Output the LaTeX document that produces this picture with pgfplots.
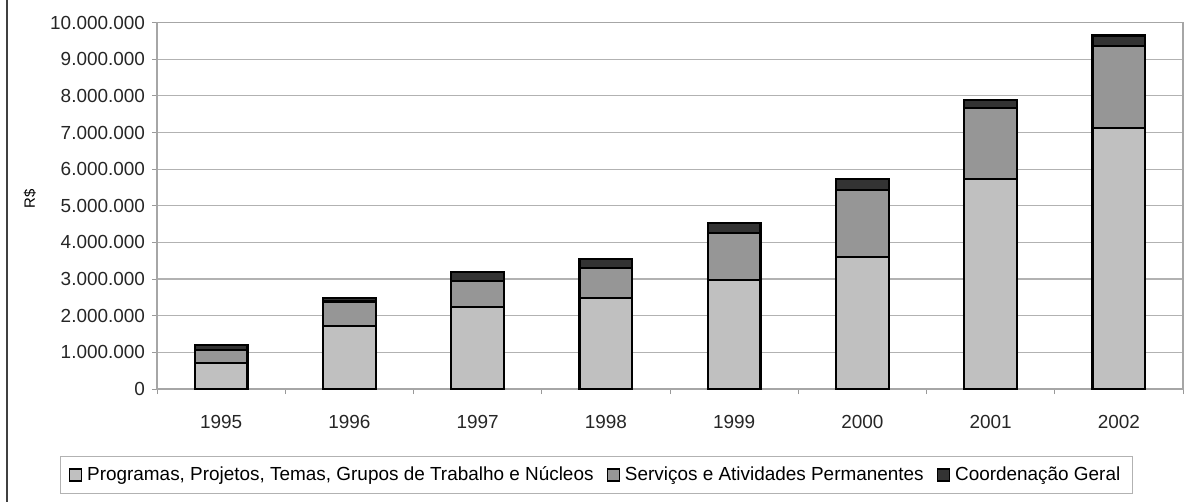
\documentclass[border=0pt]{standalone}
\usepackage{fontspec}
\setmainfont{Liberation Sans}
\usepackage{pgfplots}
\pgfplotsset{compat=1.18}
\definecolor{cLight}{HTML}{C0C0C0}
\definecolor{cMid}{HTML}{969696}
\definecolor{cDark}{HTML}{333333}
\begin{document}
\begin{tikzpicture}
\path[use as bounding box] (0,0) rectangle (595.5bp,-251bp);
\draw[line width=0.8bp, black!75] (3.5bp,0) -- (3.5bp,-251bp);
\begin{axis}[
  at={(78.5bp,-194.5bp)}, anchor=south west,
  scale only axis, width=513bp, height=183.2bp,
  ybar stacked, bar width=26.35bp,
  xmin=-0.5, xmax=7.5, ymin=0, ymax=10000000,
  xtick={0,...,7}, xticklabels={1995,1996,1997,1998,1999,2000,2001,2002},
  minor xtick={-0.5,0.5,...,7.5},
  ytick={0,1000000,...,10000000},
  scaled y ticks=false,
  yticklabel style={/pgf/number format/.cd, fixed, 1000 sep={.}, assume math mode=true},
  tick label style={font=\fontsize{9.5}{11}\selectfont, text=black!85},
  tick align=outside, tick pos=left,
  major tick length=2.5bp, minor tick length=2.5bp,
  x tick style={draw=none},
  minor x tick style={draw=gray!80, line width=0.5bp},
  y tick style={draw=gray!80, line width=0.5bp},
  xticklabel style={yshift=-7bp},
  ymajorgrids, grid style={gray!60, line width=0.6bp},
  axis line style={gray!70, line width=0.6bp},
  ylabel={R\$}, ylabel style={font=\fontsize{7.5}{9}\selectfont, at={(-0.124,0.52)}, anchor=center},
  legend style={at={(0.4284,-0.2348)}, anchor=center, legend columns=3, draw=gray!60, line width=0.6bp,
    font=\fontsize{9.5}{11}\selectfont, inner xsep=4bp, inner ysep=3bp,
    /tikz/every odd column/.append style={column sep=0.5bp},
    /tikz/every even column/.append style={column sep=4.5bp}},
  legend image code/.code={\draw[#1, line width=0.7bp] (0bp,-3bp) rectangle (6bp,3bp);},
]
\addplot[fill=cLight, draw=black, line width=1.1bp] coordinates {(0,720000) (1,1730000) (2,2230000) (3,2480000) (4,2980000) (5,3600000) (6,5730000) (7,7120000)};
\addplot[fill=cMid, draw=black, line width=1.1bp] coordinates {(0,350000) (1,660000) (2,720000) (3,820000) (4,1270000) (5,1830000) (6,1930000) (7,2250000)};
\addplot[fill=cDark, draw=black, line width=1.1bp] coordinates {(0,130000) (1,90000) (2,250000) (3,240000) (4,290000) (5,300000) (6,230000) (7,280000)};
\legend{{Programas, Projetos, Temas, Grupos de Trabalho e Núcleos}, {Serviços e Atividades Permanentes}, {Coordenação Geral}}
\end{axis}
\end{tikzpicture}
\end{document}
